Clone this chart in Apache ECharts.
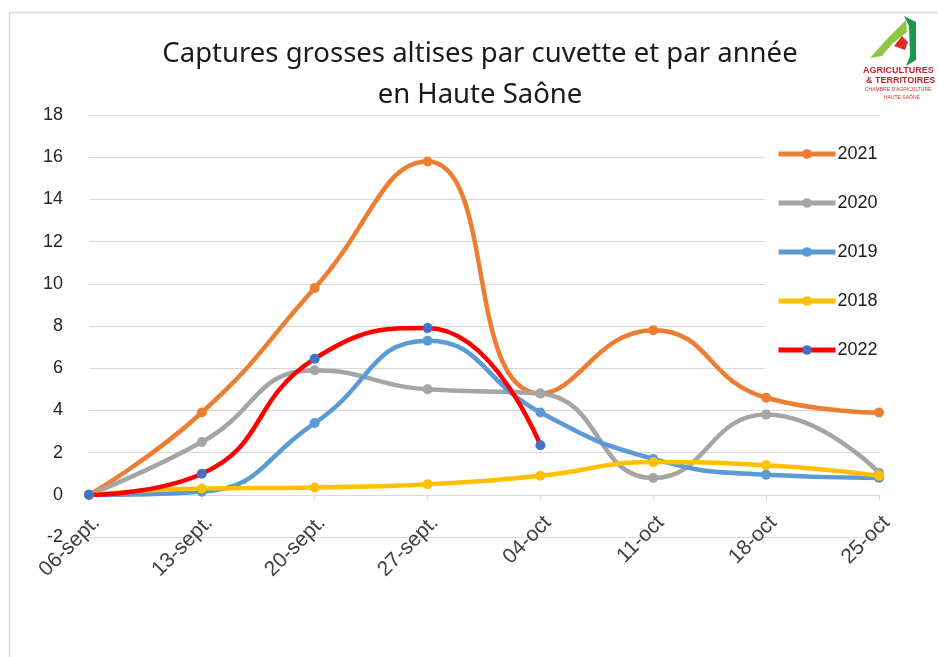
<!DOCTYPE html>
<html>
<head>
<meta charset="utf-8">
<script src="https://cdn.jsdelivr.net/npm/echarts@6/dist/echarts.min.js"></script>
<style>
  html, body { margin: 0; padding: 0; background: #fff; }
  #chart { width: 938px; height: 657px; }
</style>
</head>
<body>
<div id="chart"></div>
<script>
var dates = ['06-sept.', '13-sept.', '20-sept.', '27-sept.', '04-oct', '11-oct', '18-oct', '25-oct']
var yTicks = [-2, 0, 2, 4, 6, 8, 10, 12, 14, 16, 18]

var y2021 = [0, 3.9, 9.8, 15.8, 4.8, 7.8, 4.6, 3.9]
var y2020 = [0, 2.5, 5.9, 5.0, 4.8, 0.8, 3.8, 1.05]
var y2019 = [0, 0.15, 3.4, 7.3, 3.9, 1.7, 0.95, 0.8]
var y2018 = [0, 0.3, 0.35, 0.5, 0.9, 1.55, 1.4, 0.9]
var y2022 = [0, 1.0, 6.45, 7.9, 2.35]

var chart = echarts.init(document.getElementById('chart'))

function line(name, data, color, markerColor) {
    return {
        name: name,
        type: 'line',
        smooth: 0.5,
        data: data,
        symbol: 'circle',
        symbolSize: 10,
        lineStyle: { width: 4.5, color: color },
        itemStyle: { color: markerColor || color }
    }
}

var option = {
    animation: false,
    textStyle: { fontFamily: 'Liberation Sans' },
    title: {
        text: 'Captures grosses altises par cuvette et par année\nen Haute Saône',
        left: 475,
        textAlign: 'center',
        top: 29,
        textStyle: {
            fontFamily: 'Noto Sans',
            fontSize: 27.5,
            fontWeight: 'normal',
            color: '#1a1a1a',
            lineHeight: 41
        }
    },
    legend: {
        orient: 'vertical',
        left: 765,
        top: 132,
        width: 160,
        padding: [13, 40, 12, 11],
        backgroundColor: '#fff',
        itemWidth: 57,
        itemHeight: 12,
        itemGap: 31,
        lineStyle: { width: 5 },
        data: ['2021', '2020', '2019', '2018', '2022'],
        textStyle: { fontSize: 18, color: '#1a1a1a', padding: [0, 0, 0, -3] }
    },
    grid: {
        left: 89,
        right: 59,
        top: 115,
        bottom: 120
    },
    xAxis: {
        type: 'category',
        data: dates,
        boundaryGap: false,
        offset: -42,
        axisLine: { onZero: false, lineStyle: { color: '#d9d9d9', width: 1 } },
        axisTick: { show: true, length: 5, alignWithLabel: true, lineStyle: { color: '#d9d9d9' } },
        axisLabel: {
            rotate: 45,
            margin: 17,
            align: 'right',
            verticalAlign: 'top',
            fontSize: 21,
            color: '#404040',
            interval: 0
        }
    },
    yAxis: {
        type: 'value',
        min: yTicks[0],
        max: yTicks[yTicks.length - 1],
        interval: 2,
        axisLine: { show: false },
        axisTick: { show: false },
        axisLabel: { fontSize: 18, color: '#262626', margin: 26 },
        splitLine: { lineStyle: { color: '#d9d9d9', width: 1 } }
    },
    series: [
        line('2021', y2021, '#ED7D31'),
        line('2020', y2020, '#A5A5A5'),
        line('2019', y2019, '#5B9BD5'),
        line('2018', y2018, '#FFC000'),
        line('2022', y2022, '#FF0000', '#4472C4')
    ],
    graphic: [
        {
            type: 'rect',
            shape: { x: 9.5, y: 12.5, width: 1000, height: 700 },
            style: { fill: 'none', stroke: '#d9d9d9', lineWidth: 1.5 },
            z: -1
        },
        // logo
        {
            type: 'polygon',
            shape: { points: [[870, 58], [888, 38], [906, 20], [907, 32], [892, 44], [882, 56]] },
            style: { fill: '#8dc63f' }
        },
        {
            type: 'polygon',
            shape: { points: [[904, 16], [916, 22], [916, 60], [906, 66], [910, 56], [909, 26]] },
            style: { fill: '#1a9a4a' }
        },
        {
            type: 'polygon',
            shape: { points: [[894, 46], [902, 36], [908, 42], [905, 50]] },
            style: { fill: '#d9302c' }
        },
        {
            type: 'text',
            left: 863, top: 66,
            style: { text: 'AGRICULTURES', font: 'bold 9px Liberation Sans Narrow, Liberation Sans', fill: '#c0272d' }
        },
        {
            type: 'text',
            left: 866, top: 76,
            style: { text: '& TERRITOIRES', font: 'bold 9px Liberation Sans Narrow, Liberation Sans', fill: '#c0272d' }
        },
        {
            type: 'text',
            left: 865, top: 87,
            style: { text: "CHAMBRE D'AGRICULTURE", font: '5px Liberation Sans', fill: '#d9302c' }
        },
        {
            type: 'text',
            left: 884, top: 95,
            style: { text: 'HAUTE SAÔNE', font: '5px Liberation Sans', fill: '#d9302c' }
        }
    ]
}

chart.setOption(option)
</script>
</body>
</html>
